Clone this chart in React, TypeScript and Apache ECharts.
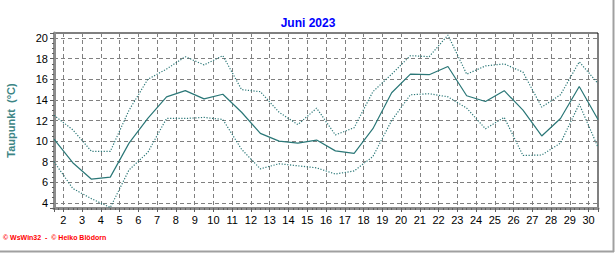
import React, { useEffect, useRef } from 'react';
import * as echarts from 'echarts';

// Day of month (June 2023)
const days: number[] = [1, 2, 3, 4, 5, 6, 7, 8, 9, 10, 11, 12, 13, 14, 15, 16, 17, 18, 19, 20, 21, 22, 23, 24, 25, 26, 27, 28, 29, 30];
// Daily maximum dew point (°C)
const maxDew: number[] = [12.5, 11.1, 9.0, 9.0, 13.0, 16.0, 17.0, 18.2, 17.4, 18.3, 15.0, 14.8, 12.8, 11.6, 13.2, 10.6, 11.3, 14.8, 16.5, 18.3, 18.2, 20.3, 16.5, 17.3, 17.5, 16.7, 13.3, 14.5, 17.7, 15.6];
// Daily mean dew point (°C)
const meanDew: number[] = [10.2, 7.9, 6.3, 6.5, 9.8, 12.2, 14.3, 14.9, 14.1, 14.55, 12.8, 10.75, 10.0, 9.8, 10.1, 9.05, 8.8, 11.2, 14.7, 16.5, 16.45, 17.25, 14.4, 13.85, 14.9, 13.0, 10.5, 12.2, 15.3, 12.1];
// Daily minimum dew point (°C)
const minDew: number[] = [8.0, 5.4, 4.4, 3.55, 7.2, 8.9, 12.2, 12.2, 12.3, 12.1, 9.2, 7.3, 7.8, 7.6, 7.4, 6.8, 7.1, 8.5, 12.0, 14.5, 14.6, 14.3, 13.2, 11.2, 12.3, 8.6, 8.65, 9.8, 13.6, 9.4];

const title = 'Juni 2023';
const yName = 'Taupunkt  (°C)';
const footer = '© WsWin32  -  © Heiko Blödorn';

const LINE = '#2a7777';

export default function App() {
  const ref = useRef<HTMLDivElement>(null);
  useEffect(() => {
    document.body.style.margin = '0';
    if (!ref.current) return;
    const chart = echarts.init(ref.current, undefined, { renderer: 'svg' });
    // daily values are drawn at mid-day
    const pts = (arr: number[]) => arr.map((v, i) => [days[i] + 0.5, v]);
    const font = 'Arial, "Liberation Sans", sans-serif';
    chart.setOption({
      animation: false,
      backgroundColor: '#ffffff',
      title: {
        text: title,
        left: 'center',
        top: 12,
        textStyle: { color: '#0000ff', fontSize: 12, fontWeight: 'bold', fontFamily: font },
      },
      grid: {
        left: 54,
        right: 18,
        top: 33,
        bottom: 45,
        show: true,
        borderColor: '#000000',
        borderWidth: 1,
        outerBoundsMode: 'none',
      },
      xAxis: {
        type: 'value',
        min: 1.5,
        max: 30.5,
        splitNumber: 29,
        axisLine: { show: true, onZero: false, lineStyle: { color: '#8c8c8c', width: 3 } },
        axisTick: { show: true, length: 4, lineStyle: { color: '#606060' } },
        minorTick: { show: true, splitNumber: 4, length: 2, lineStyle: { color: '#606060' } },
        axisLabel: {
          interval: 0,
          margin: 6,
          color: '#000',
          fontSize: 11,
          fontFamily: font,
          showMinLabel: false,
          showMaxLabel: false,
          formatter: (v: number) => (Number.isInteger(v) ? String(v) : ''),
        },
        splitLine: { show: true, lineStyle: { color: '#808080', type: [4, 3], width: 1 } },
      },
      yAxis: {
        type: 'value',
        min: 3.5,
        max: 20.5,
        splitNumber: 8,
        name: yName,
        nameLocation: 'middle',
        nameGap: 38,
        nameRotate: 90,
        nameTextStyle: { color: '#3c8585', fontSize: 11, fontWeight: 'bold', fontFamily: font },
        axisLine: { show: true, onZero: false, lineStyle: { color: '#8c8c8c', width: 3 } },
        axisTick: { show: true, length: 4, lineStyle: { color: '#606060' } },
        minorTick: { show: true, splitNumber: 4, length: 2, lineStyle: { color: '#606060' } },
        axisLabel: {
          margin: 6,
          color: '#000',
          fontSize: 11,
          fontFamily: font,
          showMinLabel: false,
          showMaxLabel: false,
          formatter: (v: number) => (Math.abs(v % 2) < 1e-9 ? String(v) : ''),
        },
        splitLine: { show: true, lineStyle: { color: '#808080', type: [4, 3], width: 1 } },
      },
      series: [
        {
          name: 'Maximum',
          type: 'line',
          data: pts(maxDew),
          showSymbol: false,
          symbol: 'none',
          lineStyle: { color: LINE, width: 1.2, type: [1.2, 1.6] },
          z: 3,
        },
        {
          name: 'Mittel',
          type: 'line',
          data: pts(meanDew),
          showSymbol: false,
          symbol: 'none',
          lineStyle: { color: LINE, width: 1.2, type: 'solid' },
          z: 4,
        },
        {
          name: 'Minimum',
          type: 'line',
          data: pts(minDew),
          showSymbol: false,
          symbol: 'none',
          lineStyle: { color: LINE, width: 1.2, type: [1.2, 1.6] },
          z: 3,
        },
      ],
      graphic: [
        {
          type: 'text',
          left: 3,
          top: 234,
          style: { text: footer, fill: '#ff0000', fontSize: 7, fontWeight: 'bold', fontFamily: font },
        },
        {
          type: 'line',
          shape: { x1: 613.5, y1: 0, x2: 613.5, y2: 252 },
          style: { stroke: '#a0a0a0', lineWidth: 2 },
        },
        {
          type: 'line',
          shape: { x1: 0, y1: 251.5, x2: 614, y2: 251.5 },
          style: { stroke: '#a0a0a0', lineWidth: 2 },
        },
      ],
    });
    return () => chart.dispose();
  }, []);
  return <div ref={ref} style={{ width: 616, height: 253 }} />;
}
